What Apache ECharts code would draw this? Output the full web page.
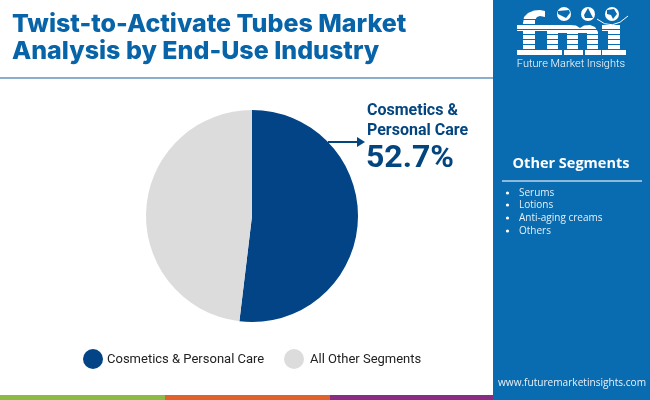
<!DOCTYPE html>
<html><head><meta charset="utf-8">
<style>html,body{margin:0;padding:0;background:#fff}#c{width:650px;height:400px}</style>
<script src="https://cdn.jsdelivr.net/npm/echarts@6/dist/echarts.min.js"></script></head>
<body><div id="c"></div><script>
const categories=["Cosmetics & Personal Care","All Other Segments"];
const values=[51.9,48.1];
const colors=["#034486","#DCDCDC"];
const titleLines=["Twist-to-Activate Tubes Market","Analysis by End-Use Industry"];
const calloutLabel=["Cosmetics &","Personal Care"];
const calloutValue="52.7%";
const otherSegments=["Serums","Lotions","Anti-aging creams","Others"];
const chart=echarts.init(document.getElementById('c'),null,{renderer:'canvas'});
const otherY=[193,205,218,231];
const g=[];
const SIDE='#0A6CB0', NAVY='#03457F', TITLE='#0864A8';
g.push({type:'rect',shape:{x:493,y:0,width:157,height:400},style:{fill:SIDE},z:1});
g.push({type:'rect',shape:{x:0,y:77,width:493,height:2},style:{fill:'#8AAECB'},z:1});
g.push({type:'rect',shape:{x:0,y:395,width:165,height:5},style:{fill:'#8CBB45'},z:1});
g.push({type:'rect',shape:{x:165,y:395,width:165,height:5},style:{fill:'#E0622A'},z:1});
g.push({type:'rect',shape:{x:330,y:395,width:163,height:5},style:{fill:'#8A2B84'},z:1});
titleLines.forEach((t,i)=>g.push({type:'text',x:12,y:[24,51][i],style:{text:t,fill:TITLE,font:'800 25px Inter',verticalAlign:'middle',align:'left'},z:3}));
calloutLabel.forEach((t,i)=>g.push({type:'text',x:367,y:[111,131][i],style:{text:t,fill:NAVY,font:'700 16px Roboto',verticalAlign:'middle'},z:3}));
g.push({type:'text',x:366,y:159,style:{text:calloutValue,fill:NAVY,font:'700 32px Roboto',verticalAlign:'middle'},z:3});
g.push({type:'line',shape:{x1:328,y1:142,x2:360,y2:142},style:{stroke:NAVY,lineWidth:2},z:3});
g.push({type:'polygon',shape:{points:[[357,137],[365,142],[357,147]]},style:{fill:NAVY},z:3});
g.push({type:'circle',shape:{cx:93,cy:359,r:10},style:{fill:colors[0]},z:3});
g.push({type:'text',x:107,y:360,style:{text:categories[0],fill:'#222',font:'400 13px Roboto',verticalAlign:'middle'},z:3});
g.push({type:'circle',shape:{cx:294,cy:359,r:10},style:{fill:colors[1]},z:3});
g.push({type:'text',x:310,y:360,style:{text:categories[1],fill:'#222',font:'400 13px Roboto',verticalAlign:'middle'},z:3});
g.push({type:'text',x:571,y:164,style:{text:'Other Segments',fill:'#fff',font:'700 14.5px "Open Sans"',align:'center',verticalAlign:'middle'},z:3});
g.push({type:'rect',shape:{x:502,y:180,width:140,height:2},style:{fill:'#8DB9DC'},z:3});
otherSegments.forEach((t,i)=>{
 g.push({type:'circle',shape:{cx:507.5,cy:otherY[i],r:1.6},style:{fill:'#fff'},z:3});
 g.push({type:'text',x:519,y:otherY[i],style:{text:t,fill:'#E4EFF7',font:'400 10px "Open Sans"',verticalAlign:'middle'},z:3});
});
g.push({type:'text',x:572,y:383,style:{text:'www.futuremarketinsights.com',fill:'#E8F1F8',font:'400 10.1px "Open Sans"',align:'center',verticalAlign:'middle'},z:3});
// logo
const W='#fff';
const r=(x,y,w,h)=>g.push({type:'rect',shape:{x,y,width:w,height:h},style:{fill:W},z:3});
const poly=(points,fill,z)=>g.push({type:'polygon',shape:{points},style:{fill},z});
poly([[523,24],[524,17],[528,13],[534,10.5],[540,10],[545,11],[545,17],[540,16],[537,17],[535,20],[535,25]],W,3);
r(523,22,12,33); r(517,25,26,6); r(517,50,28,5);
poly([[541,25],[570,25],[576,25.5],[580,28],[584,25.5],[590,25],[595,27],[598,32],[598,52],[587,52],[587,33],[578,33],[578,52],[567,52],[567,33],[558,33],[558,52],[547,52],[547,31],[541,31]],W,3);
r(541,50,21,5); r(564,50,19,5); r(585,50,16,5);
r(602,25,18,6); r(608,25,12,30); r(602,50,24,5);
[19,24,29,34,39,44,49].forEach(y=>g.push({type:'rect',shape:{x:515,y,width:114,height:0.9},style:{fill:SIDE},z:4}));
g.push({type:'bezierCurve',shape:{x1:597,y1:19,x2:628,y2:16,cpx1:612,cpy1:32},style:{fill:'none',stroke:W,lineWidth:1},z:5});
[[564,14],[588,14],[612,14]].forEach(c=>g.push({type:'circle',shape:{cx:c[0],cy:c[1],r:7},style:{fill:W},z:5}));
poly([[558,11],[569,10],[570,13],[566,18],[562,16],[558,14]],SIDE,6);
poly([[588,8],[591,14],[593,18],[585,18],[584,15]],SIDE,6);
poly([[607,10],[614,9],[617,14],[613,19],[611,15],[607,14]],SIDE,6);
g.push({type:'text',x:571,y:64,style:{text:'Future Market Insights',fill:'#fff',font:'300 11px Roboto',align:'center',verticalAlign:'middle'},z:5});
chart.setOption({
 animation:false,
 graphic:g,
 series:[{type:'pie',center:[252,216],radius:[0,106],startAngle:90,clockwise:true,label:{show:false},labelLine:{show:false},silent:true,
  data:categories.map((n,i)=>({name:n,value:values[i],itemStyle:{color:colors[i]}}))}]
});
</script></body></html>
